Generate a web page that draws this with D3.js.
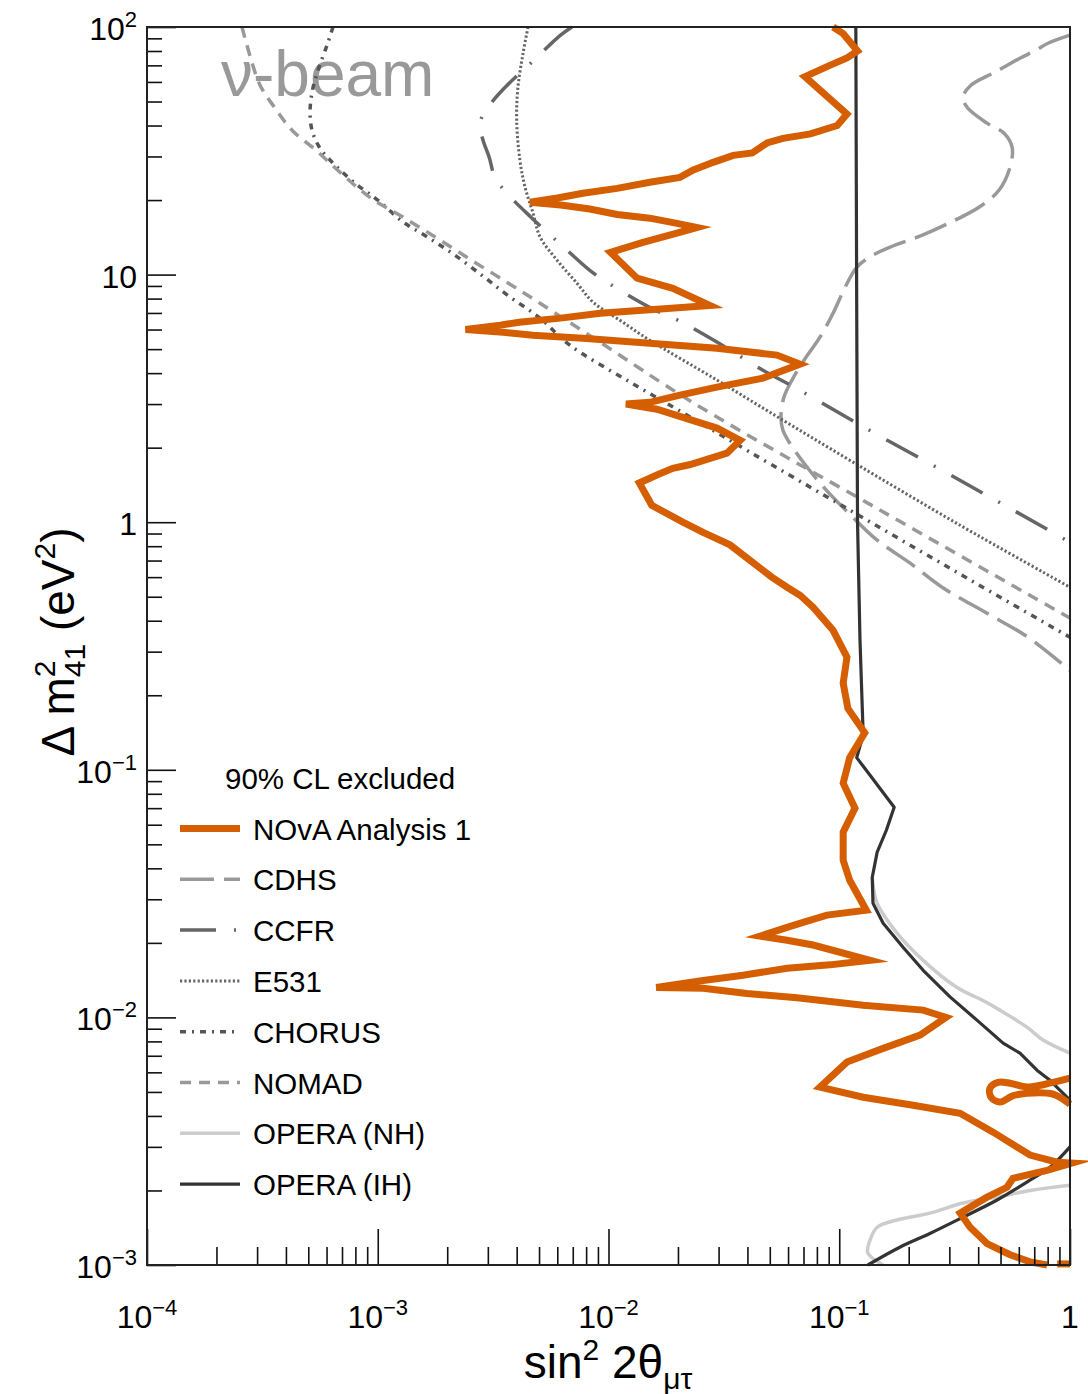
<!DOCTYPE html>
<html>
<head>
<meta charset="utf-8">
<script src="https://cdn.jsdelivr.net/npm/d3@7"></script>
<style>
  body { margin: 0; background: #fff; }
  svg { display: block; }
  text { font-family: "Liberation Sans", Arial, Helvetica, sans-serif; fill: #000; }
</style>
</head>
<body>
<svg id="chart" width="1088" height="1394"></svg>
<script>
// tick values and their labels (base, exponent)
const xMajor = [1e-4, 1e-3, 1e-2, 1e-1, 1];
const yMajor = [1e-3, 1e-2, 1e-1, 1, 10, 100];
const xTickLabels = [["10", "−4"], ["10", "−3"], ["10", "−2"], ["10", "−1"], ["1", ""]];
const yTickLabels = [["10", "−3"], ["10", "−2"], ["10", "−1"], ["1", ""], ["10", ""], ["10", "2"]];

// contours, points are [sin^2 2theta, dm^2_41]
const nova = [
  [0.094,100],[0.104,94],[0.12,80],[0.108,75],[0.091,70],[0.071,63],[0.108,44.5],[0.098,40],
  [0.075,37],[0.057,35.5],[0.0486,34],[0.042,31],[0.0347,30.3],[0.0284,28.4],[0.0232,26.4],
  [0.0204,24.7],[0.0151,23.6],[0.0109,22.3],[0.00775,21.3],[0.006,20.4],[0.00457,19.6],
  [0.0062,19.1],[0.0083,18.4],[0.0109,17.5],[0.0151,16.9],[0.0198,16.1],[0.0242,15.5],
  [0.0198,14.7],[0.0141,13.5],[0.0102,12.3],[0.0133,9.67],[0.019,8.8],[0.0275,7.5],
  [0.0162,7.25],[0.0092,6.98],[0.0062,6.67],[0.0041,6.42],[0.0034,6.25],[0.0024,6.0],
  [0.0035,5.85],[0.0047,5.69],[0.00775,5.53],[0.0151,5.28],[0.0295,5.04],[0.0537,4.73],
  [0.0676,4.35],[0.0467,3.82],[0.0295,3.51],[0.0204,3.26],[0.0151,3.05],[0.0119,3.0],
  [0.0162,2.86],[0.0295,2.40],[0.0372,2.14],[0.0326,1.90],[0.0226,1.71],[0.019,1.65],
  [0.0162,1.55],[0.0136,1.44],[0.0154,1.17],[0.021,1.0],[0.0257,0.91],[0.0336,0.81],
  [0.051,0.60],[0.0594,0.546],[0.0676,0.507],[0.077,0.454],[0.094,0.366],[0.108,0.285],
  [0.104,0.224],[0.109,0.177],[0.129,0.141],[0.111,0.112],[0.104,0.0883],[0.117,0.070],
  [0.104,0.056],[0.104,0.0431],[0.111,0.0358],[0.131,0.0271],[0.0885,0.0259],[0.0697,0.0242],
  [0.0594,0.0231],[0.0454,0.0213],[0.0594,0.0205],[0.077,0.0196],[0.136,0.017],[0.0912,0.0163],
  [0.0594,0.0158],[0.0383,0.0148],[0.0257,0.0141],[0.0161,0.0132],[0.0257,0.0131],
  [0.0398,0.0125],[0.0656,0.012],[0.127,0.0112],[0.231,0.0107],[0.29,0.0100],[0.224,0.00848],
  [0.155,0.0075],[0.108,0.0066],[0.0825,0.00523],[0.127,0.00476],[0.209,0.00442],[0.334,0.0041],
  [0.464,0.00344],[0.671,0.00278],[0.879,0.0026],[1.02,0.00258],[0.795,0.00241],[0.566,0.00224],
  [0.533,0.00206],[0.437,0.00188],[0.334,0.00162],[0.369,0.00142],[0.437,0.00122],[0.55,0.0011],
  [0.671,0.00103],[0.795,0.001]
];
const novaLoop = [
  [1.0,0.00568],[0.78,0.00537],[0.651,0.00523],[0.55,0.00542],[0.488,0.00547],[0.45,0.00518],
  [0.455,0.00476],[0.497,0.00455],[0.561,0.00481],[0.651,0.00494],[0.844,0.0049],[1.0,0.00446]
];
const novaTail = [[0.88,0.00101],[1.0,0.00101]];

const cdhs = [
  [1.0,92.7],[0.803,86],[0.712,80.6],[0.607,74.8],[0.473,65.7],[0.372,58.2],[0.344,52.1],
  [0.358,47.4],[0.437,40.9],[0.518,37.2],[0.561,32.7],[0.55,27.2],[0.492,21.9],[0.403,18.7],
  [0.318,16.6],[0.228,14.4],[0.166,12.9],[0.135,11.75],[0.119,10.7],[0.106,8.89],[0.094,6.98],
  [0.0825,5.59],[0.0704,4.51],[0.0624,3.75],[0.0576,3.2],[0.0559,2.70],[0.057,2.35],[0.06,2.14],
  [0.0704,1.73],[0.0859,1.38],[0.11,1.087],[0.146,0.846],[0.203,0.683],[0.279,0.546],
  [0.437,0.429],[0.658,0.343],[1.0,0.252]
];
const ccfr = [
  [0.00695,100],[0.0062,92.7],[0.0046,71.4],[0.00356,57],[0.0031,49.2],[0.00277,40.9],
  [0.00286,34.9],[0.00304,29.8],[0.00322,24.7],[0.00363,21.3],[0.0046,17.1],[0.0064,12.9],
  [0.0083,10.4],[0.01,9.23],[0.015,7.39],[0.02,6.54],[0.0301,5.28],[0.0467,4.11],[0.065,3.48],
  [0.124,2.46],[0.35,1.44],[1.0,0.83]
];
const e531 = [
  [0.00448,100],[0.00426,78],[0.00405,57],[0.004,42],[0.00413,29],[0.00435,22.5],[0.00471,17.7],
  [0.00505,14.2],[0.006,11.4],[0.0073,9.23],[0.00857,7.74],[0.0112,6.54],[0.0151,5.43],
  [0.0295,3.75],[0.0571,2.58],[0.111,1.78],[0.334,0.972],[1.0,0.546]
];
const chorus = [
  [0.00064,100],[0.000603,84.5],[0.000551,66.9],[0.000519,54.5],[0.000509,45.3],[0.000519,38.3],
  [0.000562,32.4],[0.000653,27.7],[0.000797,23.4],[0.001,20.0],[0.00129,16.3],[0.00168,14.0],
  [0.00218,11.9],[0.00286,9.85],[0.0037,8.18],[0.00505,6.67],[0.0068,5.19],[0.0124,3.68],
  [0.0226,2.66],[0.041,1.92],[0.111,1.12],[0.334,0.617],[1.0,0.343]
];
const nomad = [
  [0.000258,100],[0.000279,76.9],[0.000309,58.2],[0.000359,47],[0.000425,38.3],[0.00054,31.8],
  [0.000686,25.9],[0.000925,20.5],[0.00131,16.9],[0.00186,13.8],[0.00264,11.2],[0.00374,9.15],
  [0.00505,7.66],[0.0092,5.33],[0.0235,3.02],[0.15,1.12],[1.0,0.41]
];
const operaNH = [
  [0.139,0.0368],[0.146,0.0289],[0.178,0.0219],[0.231,0.017],[0.324,0.0132],[0.42,0.0117],
  [0.497,0.0107],[0.651,0.00913],[0.764,0.0081],[1.0,0.00717]
];
const operaNHLow = [
  [1.0,0.0021],[0.671,0.002],[0.483,0.00188],[0.344,0.00178],[0.247,0.00162],[0.178,0.00152],
  [0.146,0.00142],[0.136,0.00126],[0.133,0.00112],[0.155,0.001]
];
const operaIH = [
  [0.118,100],[0.119,7.9],[0.12,1.0],[0.123,0.334],[0.1255,0.191],[0.127,0.138],[0.119,0.112],
  [0.136,0.095],[0.173,0.0706],[0.16,0.057],[0.146,0.0465],[0.139,0.0368],[0.14,0.0289],
  [0.155,0.024],[0.189,0.0192],[0.231,0.0155],[0.302,0.0121],[0.395,0.00975],[0.513,0.00787],
  [0.607,0.00717],[0.719,0.00612],[0.819,0.00557],[1.0,0.00463]
];
const operaIHLow = [
  [1.0,0.003],[0.819,0.00248],[0.671,0.0022],[0.483,0.00183],[0.344,0.00156],[0.247,0.00134],
  [0.183,0.00118],[0.133,0.001]
];

const legendLabels = ["NOvA Analysis 1", "CDHS", "CCFR", "E531", "CHORUS", "NOMAD", "OPERA (NH)", "OPERA (IH)"];

// line styles
const styles = {
  nova:   { color: "#d55e00", width: 7, dash: null },
  cdhs:   { color: "#999999", width: 3.5, dash: "34,10" },
  ccfr:   { color: "#666666", width: 3.5, dash: "36,18,2,18" },
  e531:   { color: "#666666", width: 3, dash: "2.2,2.2" },
  chorus: { color: "#555555", width: 3.5, dash: "6,6,2,6" },
  nomad:  { color: "#999999", width: 3.5, dash: "11,8" },
  nh:     { color: "#cccccc", width: 3.5, dash: null },
  ih:     { color: "#333333", width: 3.2, dash: null }
};

const svg = d3.select("#chart");
const plotLeft = 147, plotRight = 1070, plotTop = 27, plotBottom = 1265;

const x = d3.scaleLog().domain([1e-4, 1]).range([plotLeft, plotRight]);
const y = d3.scaleLog().domain([1e-3, 100]).range([plotBottom, plotTop]);

const minorTicks = (majors) => {
  let out = [];
  for (let i = 0; i < majors.length - 1; i++) {
    for (let k = 2; k < 10; k++) out.push(majors[i] * k);
  }
  return out;
};

// v-beam tag
svg.append("text")
  .attr("x", 221).attr("y", 96)
  .attr("font-size", 64)
  .style("fill", "#999999")
  .text("ν-beam");

// curves
const smooth = d3.line().x(d => x(d[0])).y(d => y(d[1])).curve(d3.curveCatmullRom.alpha(0.5));
const straight = d3.line().x(d => x(d[0])).y(d => y(d[1]));

const drawCurve = (data, st, gen) => {
  svg.append("path")
    .datum(data)
    .attr("d", gen)
    .attr("fill", "none")
    .attr("stroke", st.color)
    .attr("stroke-width", st.width)
    .attr("stroke-dasharray", st.dash)
    .attr("stroke-linejoin", "round");
};

drawCurve(cdhs, styles.cdhs, smooth);
drawCurve(ccfr, styles.ccfr, smooth);
drawCurve(e531, styles.e531, smooth);
drawCurve(chorus, styles.chorus, smooth);
drawCurve(nomad, styles.nomad, smooth);
drawCurve(operaNH, styles.nh, smooth);
drawCurve(operaNHLow, styles.nh, smooth);
drawCurve(operaIH, styles.ih, straight);
drawCurve(operaIHLow, styles.ih, smooth);

svg.append("path")
  .datum(nova)
  .attr("d", straight)
  .attr("fill", "none")
  .attr("stroke", styles.nova.color)
  .attr("stroke-width", styles.nova.width)
  .attr("stroke-linejoin", "miter")
  .attr("stroke-miterlimit", 6);
drawCurve(novaLoop, styles.nova, smooth);
drawCurve(novaTail, styles.nova, straight);

// axes
const xAxis = d3.axisBottom(x)
  .tickValues(xMajor.concat(minorTicks(xMajor)))
  .tickSizeInner(-18).tickSizeOuter(0).tickFormat("");
const gx = svg.append("g").attr("transform", `translate(0,${plotBottom})`).call(xAxis);
gx.select(".domain").remove();
gx.selectAll(".tick line")
  .attr("y2", d => xMajor.includes(d) ? -36 : -18)
  .attr("stroke", "#111").attr("stroke-width", 1.6);

const yAxis = d3.axisLeft(y)
  .tickValues(yMajor.concat(minorTicks(yMajor)))
  .tickSizeInner(-15).tickSizeOuter(0).tickFormat("");
const gy = svg.append("g").attr("transform", `translate(${plotLeft},0)`).call(yAxis);
gy.select(".domain").remove();
gy.selectAll(".tick line")
  .attr("x2", d => yMajor.includes(d) ? 29 : 15)
  .attr("stroke", "#111").attr("stroke-width", 1.6);

// frame
svg.append("rect")
  .attr("x", plotLeft).attr("y", plotTop)
  .attr("width", plotRight - plotLeft).attr("height", plotBottom - plotTop)
  .attr("fill", "none").attr("stroke", "#222").attr("stroke-width", 2);

const powerLabel = (t, lab) => {
  t.append("tspan").text(lab[0]);
  if (lab[1]) t.append("tspan").attr("font-size", 22).attr("dy", -13).text(lab[1]);
};

xMajor.forEach((v, i) => {
  const t = svg.append("text")
    .attr("x", x(v)).attr("y", 1328)
    .attr("font-size", 32)
    .attr("text-anchor", "middle");
  powerLabel(t, xTickLabels[i]);
});
yMajor.forEach((v, i) => {
  const t = svg.append("text")
    .attr("x", 137).attr("y", y(v) + 13)
    .attr("font-size", 32)
    .attr("text-anchor", "end");
  powerLabel(t, yTickLabels[i]);
});

// axis titles
const xt = svg.append("text")
  .attr("x", 608).attr("y", 1378)
  .attr("font-size", 46).attr("text-anchor", "middle");
xt.append("tspan").text("sin");
xt.append("tspan").attr("font-size", 30).attr("dy", -18).text("2");
xt.append("tspan").attr("dy", 18).text(" 2θ");
xt.append("tspan").attr("font-size", 30).attr("dy", 11).text("μτ");

const yt = svg.append("text")
  .attr("transform", "translate(74,642) rotate(-90)")
  .attr("font-size", 46).attr("text-anchor", "middle");
yt.append("tspan").text("Δ m");
yt.append("tspan").attr("font-size", 30).attr("dy", -19).text("2");
yt.append("tspan").attr("font-size", 30).attr("dx", -16.7).attr("dy", 30).text("41");
yt.append("tspan").attr("dy", -11).text(" (eV");
yt.append("tspan").attr("font-size", 30).attr("dy", -19).text("2");
yt.append("tspan").attr("dy", 19).text(")");

// legend
svg.append("text")
  .attr("x", 225).attr("y", 789)
  .attr("font-size", 29.5)
  .text("90% CL excluded");

const legendStyles = [styles.nova, styles.cdhs, styles.ccfr, styles.e531, styles.chorus, styles.nomad, styles.nh, styles.ih];
legendLabels.forEach((lab, i) => {
  const ly = 828.5 + i * 50.8;
  const st = legendStyles[i];
  svg.append("line")
    .attr("x1", 180).attr("x2", 240)
    .attr("y1", ly).attr("y2", ly)
    .attr("stroke", st.color)
    .attr("stroke-width", st.width)
    .attr("stroke-dasharray", st.dash);
  svg.append("text")
    .attr("x", 253).attr("y", ly + 11)
    .attr("font-size", 29.5)
    .text(lab);
});
</script>
</body>
</html>
